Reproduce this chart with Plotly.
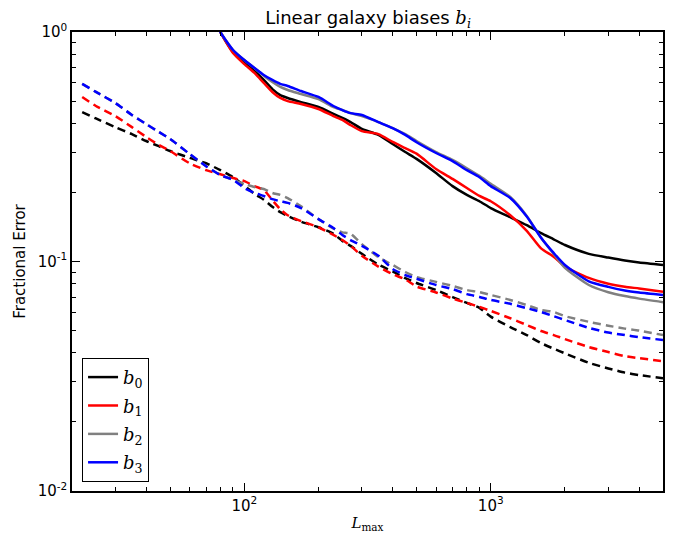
import plotly.graph_objects as go

# Multipole grid (L_max)
L_solid = [78, 80, 90, 100, 110, 120, 130, 140, 150, 170, 200, 230, 250, 270, 300, 350, 400, 450,
           500, 600, 700, 800, 900, 1000, 1200, 1400, 1600, 1800, 2000, 2500, 3000, 3500, 4000, 5000]
L_dash = [22, 25, 30, 35, 40, 45, 50, 60, 70, 80, 90, 100, 110, 120, 130, 140, 150, 170, 200, 230,
          250, 270, 300, 350, 400, 450, 500, 600, 700, 800, 900, 1000, 1200, 1400, 1600, 1800, 2000,
          2500, 3000, 3500, 4000, 5000]

# Solid curves
b0_solid = [1.08, 1.0, 0.818, 0.740, 0.676, 0.618, 0.564, 0.531, 0.516, 0.495, 0.471, 0.440, 0.422, 0.405,
            0.378, 0.356, 0.325, 0.300, 0.280, 0.243, 0.213, 0.195, 0.183, 0.171, 0.156, 0.144, 0.133,
            0.125, 0.118, 0.108, 0.104, 0.101, 0.0990, 0.0966]
b1_solid = [1.08, 1.0, 0.810, 0.725, 0.663, 0.600, 0.548, 0.516, 0.500, 0.486, 0.462, 0.430, 0.414, 0.393,
            0.370, 0.359, 0.332, 0.312, 0.295, 0.253, 0.229, 0.209, 0.193, 0.183, 0.159, 0.136, 0.114,
            0.105, 0.095, 0.0848, 0.0800, 0.0776, 0.0763, 0.0739]
b2_solid = [1.08, 1.0, 0.835, 0.755, 0.697, 0.645, 0.605, 0.576, 0.559, 0.537, 0.510, 0.471, 0.457, 0.443,
            0.430, 0.405, 0.381, 0.359, 0.335, 0.300, 0.277, 0.255, 0.236, 0.218, 0.191, 0.158, 0.127,
            0.108, 0.0938, 0.079, 0.0735, 0.0707, 0.0689, 0.0665]
b3_solid = [1.08, 1.0, 0.835, 0.755, 0.697, 0.650, 0.618, 0.594, 0.582, 0.553, 0.521, 0.476, 0.457, 0.443,
            0.435, 0.405, 0.381, 0.356, 0.331, 0.297, 0.274, 0.250, 0.233, 0.213, 0.189, 0.157, 0.127,
            0.109, 0.0966, 0.082, 0.0775, 0.0748, 0.0733, 0.0715]

# Dashed curves
b0_dash = [0.448, 0.420, 0.385, 0.359, 0.335, 0.318, 0.303, 0.283, 0.268, 0.250, 0.233, 0.214, 0.197, 0.186,
           0.173, 0.164, 0.158, 0.149, 0.141, 0.132, 0.123, 0.117, 0.108, 0.097, 0.0905, 0.0846, 0.0806,
           0.0751, 0.070, 0.066, 0.0628, 0.0575, 0.0518, 0.0478, 0.0441, 0.0417, 0.0398, 0.0362, 0.0342,
           0.0328, 0.0320, 0.0310]
b1_dash = [0.521, 0.476, 0.430, 0.385, 0.349, 0.322, 0.303, 0.268, 0.250, 0.240, 0.231, 0.224, 0.213, 0.205,
           0.185, 0.169, 0.159, 0.150, 0.141, 0.1305, 0.124, 0.117, 0.106, 0.0950, 0.0880, 0.0836, 0.0778,
           0.0733, 0.0690, 0.0660, 0.0634, 0.0609, 0.0566, 0.0529, 0.0498, 0.0478, 0.0459, 0.0424, 0.0403,
           0.0387, 0.0379, 0.0368]
b2_dash = [0.594, 0.548, 0.490, 0.435, 0.397, 0.367, 0.342, 0.294, 0.260, 0.238, 0.227, 0.218, 0.211, 0.207,
           0.199, 0.195, 0.189, 0.174, 0.153, 0.139, 0.134, 0.132, 0.119, 0.1045, 0.0966, 0.0900, 0.0856,
           0.0815, 0.0783, 0.0751, 0.0736, 0.0715, 0.068, 0.0646, 0.0615, 0.0603, 0.0578, 0.0546, 0.0525,
           0.0510, 0.0500, 0.0478]
b3_dash = [0.594, 0.548, 0.490, 0.435, 0.397, 0.367, 0.342, 0.294, 0.260, 0.238, 0.227, 0.209, 0.199, 0.193,
           0.187, 0.183, 0.180, 0.171, 0.153, 0.140, 0.1305, 0.124, 0.117, 0.106, 0.0928, 0.0873, 0.0841,
           0.079, 0.0758, 0.0721, 0.0701, 0.068, 0.0654, 0.0626, 0.0603, 0.0578, 0.0556, 0.0514, 0.049,
           0.0478, 0.0468, 0.0455]

names = ["<i>b</i><sub>0</sub>", "<i>b</i><sub>1</sub>", "<i>b</i><sub>2</sub>", "<i>b</i><sub>3</sub>"]
colors = ["#000000", "#ff0000", "#808080", "#0000ff"]
solids = [b0_solid, b1_solid, b2_solid, b3_solid]
dashes = [b0_dash, b1_dash, b2_dash, b3_dash]

x_ticks = [100, 1000]
x_ticktext = ["10<sup>2</sup>", "10<sup>3</sup>"]
y_ticks = [0.01, 0.1, 1]
y_ticktext = ["10<sup>-2</sup>", "10<sup>-1</sup>", "10<sup>0</sup>"]
x_minor = [30, 40, 50, 60, 70, 80, 90, 200, 300, 400, 500, 600, 700, 800, 900, 2000, 3000, 4000]
y_minor = [0.02, 0.03, 0.04, 0.05, 0.06, 0.07, 0.08, 0.09, 0.2, 0.3, 0.4, 0.5, 0.6, 0.7, 0.8, 0.9]

fig = go.Figure()
for i in range(4):
    fig.add_trace(go.Scatter(x=L_solid, y=solids[i], mode="lines", name=names[i],
                             legendgroup=str(i),
                             line=dict(color=colors[i], width=2.5, shape="spline", smoothing=0.6)))
    fig.add_trace(go.Scatter(x=L_dash, y=dashes[i], mode="lines", showlegend=False,
                             legendgroup=str(i),
                             line=dict(color=colors[i], width=2.5, dash="8px,5px",
                                       shape="spline", smoothing=0.6)))

axis_common = dict(type="log", showgrid=False, zeroline=False, showline=True, linecolor="black",
                   linewidth=1.5, mirror="allticks", ticks="inside", ticklen=8, tickwidth=1,
                   tickcolor="black", automargin=False,
                   tickfont=dict(family="DejaVu Sans", size=15, color="black"))

fig.update_xaxes(**axis_common, range=[1.30103, 3.69897], tickvals=x_ticks, ticktext=x_ticktext,
                 minor=dict(tickvals=x_minor, ticks="inside", ticklen=4, tickcolor="black"),
                 title=dict(text="<i>L</i><sub>max</sub>", standoff=7,
                            font=dict(family="DejaVu Serif", size=15, color="black")))
fig.update_yaxes(**axis_common, range=[-2, 0], tickvals=y_ticks, ticktext=y_ticktext,
                 minor=dict(tickvals=y_minor, ticks="inside", ticklen=4, tickcolor="black"),
                 title=dict(text="Fractional Error", standoff=8,
                            font=dict(family="DejaVu Sans", size=15, color="black")))

# page has an 8px body margin, so the figure is sized/offset to land the axes correctly
fig.update_layout(
    width=668, height=525,
    margin=dict(l=64, r=13, t=24, b=42, autoexpand=False),
    paper_bgcolor="white", plot_bgcolor="white",
    title=dict(text="Linear galaxy biases <span style='font-family:DejaVu Serif'><i>b</i><sub><i>i</i></sub></span>",
               x=0.539, xanchor="center", y=0.981, yanchor="middle",
               font=dict(family="DejaVu Sans", size=18, color="black")),
    legend=dict(x=0.017, y=0.29, xanchor="left", yanchor="top", bordercolor="black", borderwidth=1,
                bgcolor="white", traceorder="grouped", tracegroupgap=2,
                font=dict(family="DejaVu Serif", size=18, color="black")),
    showlegend=True,
)

fig.write_html("out.html")
